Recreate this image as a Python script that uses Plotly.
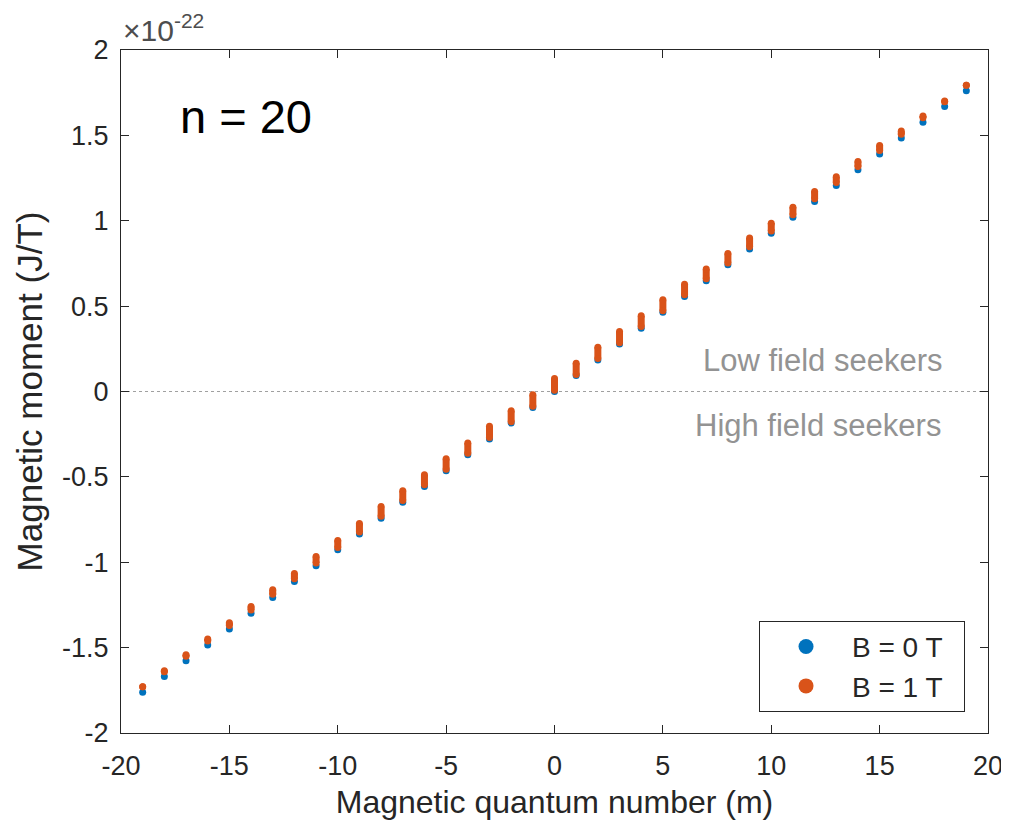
import plotly.graph_objects as go

# ---------------- data (values in units of 1e-22 J/T) ----------------
m_values = list(range(-19, 20))

moment_B0 = [
    -1.762, -1.669, -1.577, -1.484, -1.391, -1.298, -1.206, -1.113, -1.020, -0.927,
    -0.835, -0.742, -0.649, -0.556, -0.464, -0.371, -0.278, -0.185, -0.093, 0.000,
    0.093, 0.185, 0.278, 0.371, 0.464, 0.556, 0.649, 0.742, 0.835, 0.927,
    1.020, 1.113, 1.206, 1.298, 1.391, 1.484, 1.577, 1.669, 1.762,
]

moment_B1_low = [
    -1.729, -1.641, -1.551, -1.461, -1.370, -1.279, -1.188, -1.097, -1.005, -0.914,
    -0.823, -0.731, -0.638, -0.546, -0.455, -0.362, -0.270, -0.177, -0.086, 0.007,
    0.100, 0.193, 0.286, 0.380, 0.473, 0.566, 0.660, 0.753, 0.847, 0.940,
    1.035, 1.129, 1.224, 1.317, 1.412, 1.507, 1.603, 1.697, 1.793,
]

moment_B1_high = [
    -1.729, -1.635, -1.542, -1.449, -1.354, -1.259, -1.161, -1.066, -0.967, -0.872,
    -0.773, -0.674, -0.581, -0.488, -0.394, -0.301, -0.204, -0.113, -0.019, 0.076,
    0.165, 0.259, 0.352, 0.443, 0.538, 0.628, 0.717, 0.808, 0.899, 0.986,
    1.079, 1.172, 1.257, 1.347, 1.440, 1.525, 1.614, 1.702, 1.793,
]

x_tick_vals = [-20, -15, -10, -5, 0, 5, 10, 15, 20]
x_tick_text = ["-20", "-15", "-10", "-5", "0", "5", "10", "15", "20"]
y_tick_vals = [-2, -1.5, -1, -0.5, 0, 0.5, 1, 1.5, 2]
y_tick_text = ["-2", "-1.5", "-1", "-0.5", "0", "0.5", "1", "1.5", "2"]

series_names = ["B = 0 T", "B = 1 T"]
series_colors = ["#0072BD", "#D95319"]

# ---------------- build figure ----------------
FONT = "Liberation Sans, Arial, Helvetica, sans-serif"
AXC = "#262626"

fig = go.Figure()

# blue points (B = 0 T)
fig.add_trace(go.Scatter(
    x=m_values, y=moment_B0, mode="markers",
    marker=dict(size=7, color=series_colors[0], line=dict(width=0)),
    showlegend=False, hoverinfo="x+y",
))

# orange clusters (B = 1 T): span of states for each m
xs, ys = [], []
for m, lo, hi in zip(m_values, moment_B1_low, moment_B1_high):
    xs += [m, m, None]
    ys += [lo, hi, None]
fig.add_trace(go.Scatter(
    x=xs, y=ys, mode="lines+markers",
    line=dict(color=series_colors[1], width=7),
    marker=dict(size=7, color=series_colors[1], line=dict(width=0)),
    connectgaps=False, showlegend=False, hoverinfo="x+y",
))

# legend entries (trailing no-break spaces give the box its right padding)
for name, col in zip(series_names, series_colors):
    fig.add_trace(go.Scatter(
        x=[None], y=[None], mode="markers", name=name + "\u00a0\u00a0",
        marker=dict(size=15, color=col, line=dict(width=0)),
    ))

# zero line (dotted)
fig.add_shape(type="line", xref="paper", x0=0, x1=1, yref="y", y0=0, y1=0,
              line=dict(color="#a0a0a0", width=1, dash="dot"), layer="below")

axis_common = dict(
    showgrid=False, zeroline=False, showline=True, linecolor=AXC, linewidth=1,
    mirror="ticks", ticks="inside", ticklen=8, tickwidth=1, tickcolor=AXC,
    tickfont=dict(family=FONT, size=27, color=AXC),
)

fig.update_xaxes(
    range=[-20, 20], tickmode="array", tickvals=x_tick_vals, ticktext=x_tick_text,
    title=dict(text="Magnetic quantum number (m)", font=dict(family=FONT, size=32, color=AXC),
               standoff=10),
    ticklabelstandoff=9,
    **axis_common,
)
fig.update_yaxes(
    range=[-2, 2], tickmode="array", tickvals=y_tick_vals, ticktext=y_tick_text,
    title=dict(text="Magnetic moment (J/T)", font=dict(family=FONT, size=35, color=AXC),
               standoff=8),
    ticklabelstandoff=6,
    **axis_common,
)

fig.add_annotation(text="×10<sup>-22</sup>", xref="paper", yref="paper",
                   x=0, y=1, xanchor="left", yanchor="bottom", yshift=1, showarrow=False,
                   font=dict(family=FONT, size=30, color="#4d4d4d"))
fig.add_annotation(text="n = 20", xref="paper", yref="y", x=0.0657, y=1.613,
                   xanchor="left", yanchor="middle", showarrow=False,
                   font=dict(family=FONT, size=47, color="black"))
fig.add_annotation(text="Low field seekers", xref="paper", yref="y", x=0.950, y=0.184,
                   xanchor="right", yanchor="middle", showarrow=False,
                   font=dict(family=FONT, size=31, color="#939393"))
fig.add_annotation(text="High field seekers", xref="paper", yref="y", x=0.948, y=-0.202,
                   xanchor="right", yanchor="middle", showarrow=False,
                   font=dict(family=FONT, size=31, color="#939393"))

fig.update_layout(
    width=1001, height=818,
    margin=dict(l=113, r=21, t=42, b=93, autoexpand=False),
    paper_bgcolor="white", plot_bgcolor="white",
    font=dict(family=FONT, color=AXC),
    legend=dict(
        x=0.9735, y=0.031, xanchor="right", yanchor="bottom",
        bgcolor="white", bordercolor=AXC, borderwidth=1,
        font=dict(family=FONT, size=28, color=AXC),
        itemwidth=82, tracegroupgap=0,
    ),
)

fig.write_html("out.html")
